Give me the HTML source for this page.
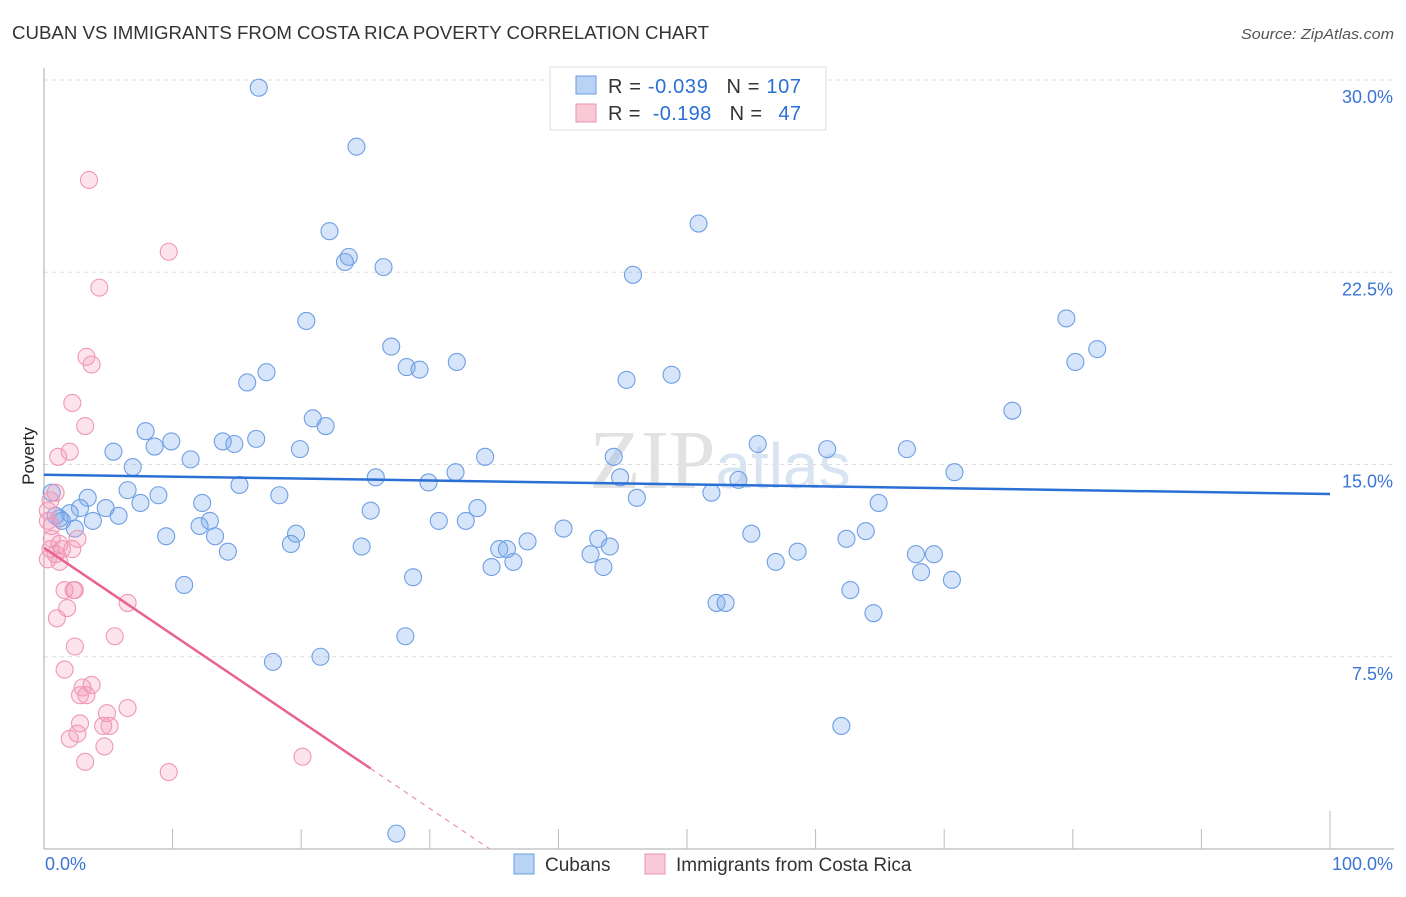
<!DOCTYPE html>
<html><head><meta charset="utf-8"><style>
body{margin:0;background:#fff;font-family:"Liberation Sans",sans-serif;}
</style></head><body>
<svg id="chart" width="1406" height="892" xmlns="http://www.w3.org/2000/svg">
<text x="12" y="39" font-size="18" fill="#333" textLength="697" lengthAdjust="spacingAndGlyphs">CUBAN VS IMMIGRANTS FROM COSTA RICA POVERTY CORRELATION CHART</text>
<text x="1241" y="39" font-size="15" fill="#555" textLength="153" lengthAdjust="spacingAndGlyphs" font-style="italic">Source: ZipAtlas.com</text>
<text x="720" y="488" font-size="84" fill="#e2e2e2" text-anchor="middle" font-family="Liberation Serif,serif">ZIP<tspan font-family="Liberation Sans,sans-serif" font-size="64" fill="#d9e4f3">atlas</tspan></text>
<g id="grid"></g><g id="axes"></g><g id="pts"></g><g id="trends"></g>
<text transform="translate(34,456) rotate(-90)" font-size="17" fill="#222" text-anchor="middle">Poverty</text>
<g>
<rect x="550" y="67" width="276" height="63" fill="#fff" stroke="#ddd"/>
<rect x="576" y="76" width="20" height="18" fill="#b9d3f5" stroke="#6a9be0"/>
<rect x="576" y="104" width="20" height="18" fill="#f9c9d8" stroke="#eb95b1"/>
<text x="608" y="93" font-size="20" fill="#333" textLength="193" lengthAdjust="spacing">R = <tspan fill="#2b6fd6">-0.039</tspan><tspan dx="18">N = </tspan><tspan fill="#2b6fd6">107</tspan></text>
<text x="608" y="120" font-size="20" fill="#333" textLength="193" lengthAdjust="spacing">R = <tspan dx="6" fill="#2b6fd6">-0.198</tspan><tspan dx="18">N = </tspan><tspan dx="10" fill="#2b6fd6">47</tspan></text>
</g>
<g>
<rect x="514" y="854" width="20" height="20" fill="#b9d3f5" stroke="#6a9be0"/>
<text x="545" y="871" font-size="19" fill="#333">Cubans</text>
<rect x="645" y="854" width="20" height="20" fill="#f9c9d8" stroke="#eb95b1"/>
<text x="676" y="871" font-size="19" fill="#333">Immigrants from Costa Rica</text>
</g>
</svg>
<script>
const yTicks=[7.5,15,22.5,30];
const yTickLabels=["7.5%","15.0%","22.5%","30.0%"];
const xTickLabels=["0.0%","100.0%"];
const cubanX=[16.7,24.3,22.2,23.7,23.4,26.4,50.9,45.8,20.4,79.5,81.9,80.2,27.0,32.1,28.2,29.2,17.3,15.8,45.3,48.8,75.3,20.9,21.9,7.9,5.4,8.6,9.9,13.9,14.8,16.5,19.9,11.4,6.9,55.5,60.9,67.1,44.3,34.3,32.0,25.8,29.9,44.8,70.8,15.2,6.5,8.9,18.3,3.4,54.0,51.9,46.1,7.5,12.3,4.8,2.8,2.0,5.8,25.4,33.7,64.9,1.2,3.8,12.9,2.4,12.1,30.7,32.8,40.4,19.6,55.0,63.9,9.5,13.3,19.2,24.7,43.1,37.6,62.4,35.4,36.0,14.3,42.5,44.0,58.6,67.8,69.2,36.5,34.8,43.5,56.9,10.9,28.7,68.2,70.6,62.7,52.3,53.0,64.5,28.1,17.8,21.5,62.0,27.4,0.6,0.9,1.4];
const cubanY=[29.7,27.4,24.1,23.1,22.9,22.7,24.4,22.4,20.6,20.7,19.5,19.0,19.6,19.0,18.8,18.7,18.6,18.2,18.3,18.5,17.1,16.8,16.5,16.3,15.5,15.7,15.9,15.9,15.8,16.0,15.6,15.2,14.9,15.8,15.6,15.6,15.3,15.3,14.7,14.5,14.3,14.5,14.7,14.2,14.0,13.8,13.8,13.7,14.4,13.9,13.7,13.5,13.5,13.3,13.3,13.1,13.0,13.2,13.3,13.5,12.9,12.8,12.8,12.5,12.6,12.8,12.8,12.5,12.3,12.3,12.4,12.2,12.2,11.9,11.8,12.1,12.0,12.1,11.7,11.7,11.6,11.5,11.8,11.6,11.5,11.5,11.2,11.0,11.0,11.2,10.3,10.6,10.8,10.5,10.1,9.6,9.6,9.2,8.3,7.3,7.5,4.8,0.6,13.9,13.0,12.8];
const costaX=[3.5,9.7,4.3,3.3,3.7,2.2,3.2,2.0,1.1,0.9,0.5,0.3,0.6,1.2,1.4,0.5,2.2,0.9,0.3,1.2,2.6,1.6,2.3,1.0,1.8,2.4,6.5,5.5,2.4,1.6,3.7,3.0,2.8,3.3,4.9,6.5,2.8,4.6,5.1,2.6,2.0,4.7,3.2,9.7,20.1,0.6,0.3];
const costaY=[26.1,23.3,21.9,19.2,18.9,17.4,16.5,15.5,15.3,13.9,13.6,12.8,12.6,11.9,11.7,11.7,11.7,11.5,11.3,11.2,12.1,10.1,10.1,9.0,9.4,10.1,9.6,8.3,7.9,7.0,6.4,6.3,6.0,6.0,5.3,5.5,4.9,4.8,4.8,4.5,4.3,4.0,3.4,3.0,3.6,12.1,13.2];
const cubanTrend=[14.6,13.85];
const costaTrend=[11.75,-0.339];
const NS="http://www.w3.org/2000/svg";
const X0=44,X1=1330,Y0=849,Y1=80;
const xs=v=>X0+(X1-X0)*v/100;
const ys=v=>Y0-(Y0-Y1)*v/30;
function mk(tag,attrs,parent){const e=document.createElementNS(NS,tag);for(const k in attrs)e.setAttribute(k,attrs[k]);document.getElementById(parent).appendChild(e);return e;}
yTicks.forEach((t,i)=>{
 const l=mk('line',{x1:X0,x2:1394,y1:ys(t),y2:ys(t),stroke:'#ddd','stroke-dasharray':'4,4'},'grid');
 
 
 const tx=mk('text',{x:1393,y:ys(t)+23,'font-size':18,fill:'#3b74d4','text-anchor':'end'},'grid');
 tx.textContent=yTickLabels[i];
 
 
});
let a=mk('line',{x1:X0,x2:X0,y1:68,y2:Y0,stroke:'#aaa'},'axes');


a=mk('line',{x1:X0,x2:1394,y1:Y0,y2:Y0,stroke:'#aaa'},'axes');


for(let i=1;i<=10;i++){const x=xs(i*10);const t=mk('line',{x1:x,x2:x,y1:i==10?811:829,y2:Y0,stroke:'#bbb'},'axes');
 
 }
[[xs(0)+1,'start'],[1393,'end']].forEach((p,i)=>{const t=mk('text',{x:p[0],y:870,'font-size':18,fill:'#3b74d4','text-anchor':p[1]},'axes');t.textContent=xTickLabels[i];
 
 });
cubanX.forEach((v,i)=>{const c=mk('circle',{cx:xs(v),cy:ys(cubanY[i]),r:8.5,fill:'rgba(120,168,238,0.3)',stroke:'#6f9fe3','stroke-width':1.1},'pts');
 
 });
costaX.forEach((v,i)=>{const c=mk('circle',{cx:xs(v),cy:ys(costaY[i]),r:8.5,fill:'rgba(245,155,185,0.28)',stroke:'#ef98b5','stroke-width':1.1},'pts');
 
 });
let t=mk('line',{x1:xs(0),y1:ys(cubanTrend[0]),x2:xs(100),y2:ys(cubanTrend[1]),stroke:'#2a6fd5','stroke-width':2.5},'trends');


const xe=25.4,xz=-costaTrend[0]/costaTrend[1];
t=mk('line',{x1:xs(0),y1:ys(costaTrend[0]),x2:xs(xe),y2:ys(costaTrend[0]+costaTrend[1]*xe),stroke:'#e8648f','stroke-width':2.5},'trends');


t=mk('line',{x1:xs(xe),y1:ys(costaTrend[0]+costaTrend[1]*xe),x2:xs(xz),y2:ys(0),stroke:'#eb8fac','stroke-width':1.2,'stroke-dasharray':'5,5'},'trends');


</script>
</body></html>
